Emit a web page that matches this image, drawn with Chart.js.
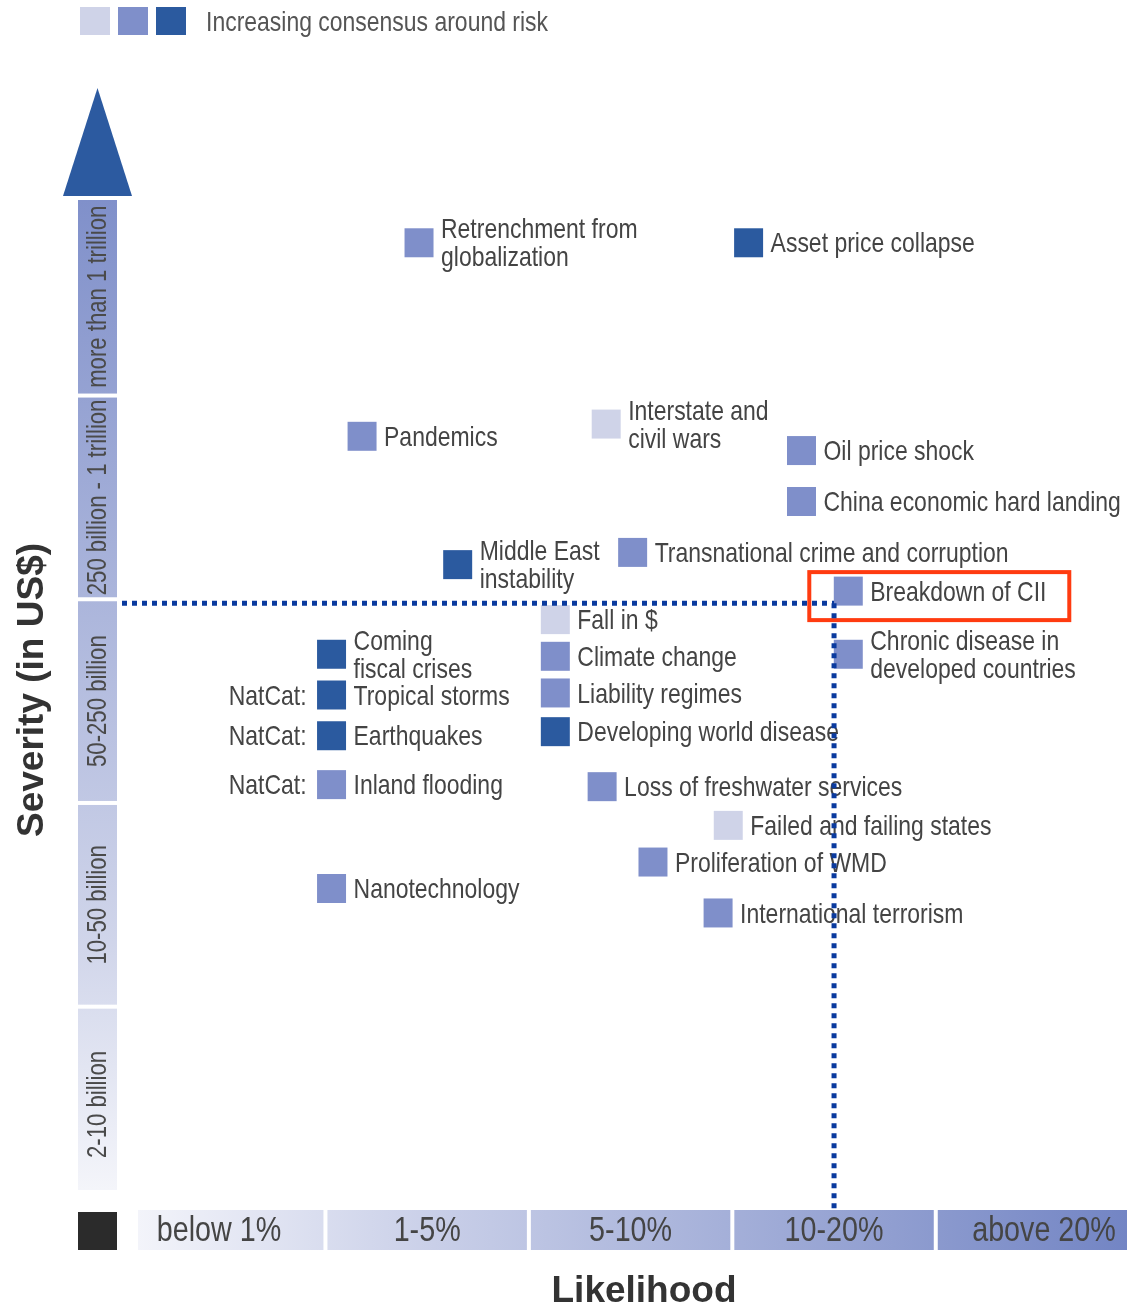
<!DOCTYPE html>
<html>
<head>
<meta charset="utf-8">
<script src="https://cdn.jsdelivr.net/npm/chart.js@4.4.1/dist/chart.umd.min.js"></script>
<style>
  html, body { margin: 0; padding: 0; background: #fff; }
  canvas { display: block; }
</style>
</head>
<body>
<canvas id="riskChart" width="1127" height="1313"></canvas>
<script>
// likelihood: 0 = below 1% ... 4 = above 20%, severity: 0 = 2-10bn ... 4 = more than 1tn
const risks = [
  'Retrenchment from\nglobalization', 'Asset price collapse', 'Pandemics', 'Interstate and\ncivil wars',
  'Oil price shock', 'China economic hard landing', 'Middle East\ninstability', 'Transnational crime and corruption',
  'Breakdown of CII', 'Chronic disease in\ndeveloped countries', 'Coming\nfiscal crises', 'Tropical storms',
  'Earthquakes', 'Inland flooding', 'Nanotechnology', 'Fall in $', 'Climate change', 'Liability regimes',
  'Developing world disease', 'Loss of freshwater services', 'Failed and failing states',
  'Proliferation of WMD', 'International terrorism'
];
const likelihood = [0.96, 2.58, 0.68, 1.88, 2.84, 2.84, 1.15, 2.01, 3.07, 3.07, 0.53, 0.53, 0.53, 0.53, 0.53,
  1.63, 1.63, 1.63, 1.63, 1.86, 2.48, 2.11, 2.43];
const severity = [4.25, 4.25, 3.30, 3.36, 3.23, 2.98, 2.67, 2.73, 2.54, 2.23, 2.23, 2.03, 1.83, 1.59, 1.08,
  2.40, 2.22, 2.04, 1.85, 1.58, 1.39, 1.21, 0.96];
const consensus = [1, 2, 1, 0, 1, 1, 2, 1, 1, 1, 2, 2, 2, 1, 1, 0, 1, 1, 2, 1, 0, 1, 1];
const prefixes = ['', '', '', '', '', '', '', '', '', '', '', 'NatCat:', 'NatCat:', 'NatCat:', '', '', '', '', '', '', '', '', ''];

const likelihoodBands = ['below 1%', '1-5%', '5-10%', '10-20%', 'above 20%'];
const severityBands = ['2-10 billion', '10-50 billion', '50-250 billion', '250 billion - 1 trillion', 'more than 1 trillion'];
const consensusColors = ['#cfd3e8', '#7f8fca', '#2b5a9f'];
const thresholdLikelihood = 3.0;
const thresholdSeverity = 2.48;
const highlighted = 'Breakdown of CII';

const FONT = '"Liberation Sans", Arial, sans-serif';

// condensed text, like the original's narrow typeface
function narrowText(ctx, text, x, y, opts) {
  const o = Object.assign({ size: 28, align: 'left', color: '#444', weight: 'normal', rotate: 0, squeeze: 0.82 }, opts);
  ctx.save();
  ctx.font = `${o.weight} ${o.size}px ${FONT}`;
  ctx.fillStyle = o.color;
  ctx.textAlign = o.align;
  ctx.textBaseline = 'middle';
  ctx.translate(x, y);
  if (o.rotate) ctx.rotate(o.rotate);
  ctx.scale(o.squeeze, 1);
  ctx.fillText(text, 0, 0);
  ctx.restore();
}

const frame = {
  id: 'frame',
  beforeDatasetsDraw(chart) {
    const { ctx, chartArea, scales: { x, y } } = chart;
    ctx.save();

    // legend
    consensusColors.forEach((c, i) => {
      ctx.fillStyle = c;
      ctx.fillRect(80 + i * 38, 7, 30, 28);
    });
    narrowText(ctx, 'Increasing consensus around risk', 206, 23, { size: 28, color: '#555' });

    // severity bands
    const bx = 78, bw = 39;
    const vg = ctx.createLinearGradient(0, chartArea.bottom, 0, chartArea.top);
    vg.addColorStop(0, '#f4f5fa');
    vg.addColorStop(0.25, '#d0d5ea');
    vg.addColorStop(1, '#8090ca');
    severityBands.forEach((label, j) => {
      const top = j === severityBands.length - 1 ? chartArea.top : y.getPixelForValue(j + 0.5) + 2;
      const bot = j === 0 ? chartArea.bottom : y.getPixelForValue(j - 0.5) - 2;
      ctx.fillStyle = vg;
      ctx.fillRect(bx, top, bw, bot - top);
      const cy = j === 0 ? y.getPixelForValue(j) - 4 : (top + bot) / 2;
      narrowText(ctx, label, bx + bw / 2 + 1, cy, { size: 27, align: 'center', color: '#4a4a4a', rotate: -Math.PI / 2 });
    });

    // arrow
    ctx.fillStyle = '#2c5aa0';
    ctx.beginPath();
    ctx.moveTo(97.5, 88);
    ctx.lineTo(132, 196);
    ctx.lineTo(63, 196);
    ctx.closePath();
    ctx.fill();

    // likelihood bands
    const by = 1210, bh = 40;
    const hg = ctx.createLinearGradient(138, 0, chart.width, 0);
    hg.addColorStop(0, '#f3f4fa');
    hg.addColorStop(0.3, '#c9cfe8');
    hg.addColorStop(1, '#7385c4');
    likelihoodBands.forEach((label, i) => {
      const left = i === 0 ? 138 : x.getPixelForValue(i - 0.5) + 2;
      const right = i === likelihoodBands.length - 1 ? chart.width : x.getPixelForValue(i + 0.5) - 2;
      ctx.fillStyle = hg;
      ctx.fillRect(left, by, right - left, bh);
      const cx = i === 0 ? 219 : i === likelihoodBands.length - 1 ? 1044 : x.getPixelForValue(i);
      narrowText(ctx, label, cx, by + bh / 2 + 1, { size: 35, align: 'center', color: '#454545' });
    });
    ctx.fillStyle = '#2b2b2b';
    ctx.fillRect(78, 1212, 39, 38);

    // axis titles
    narrowText(ctx, 'Likelihood', 644, 1292, { size: 37, align: 'center', color: '#333', weight: 'bold', squeeze: 1 });
    narrowText(ctx, 'Severity (in US$)', 33, 690, { size: 37, align: 'center', color: '#333', weight: 'bold', squeeze: 1, rotate: -Math.PI / 2 });

    ctx.restore();
  },
  afterDatasetsDraw(chart) {
    const { ctx, chartArea, scales: { x, y } } = chart;
    ctx.save();

    // point labels
    chart.data.datasets.forEach((ds, di) => {
      chart.getDatasetMeta(di).data.forEach((pt, k) => {
        const d = ds.data[k];
        const lines = d.name.split('\n');
        lines.forEach((line, li) => {
          const ly = pt.y + 2 + (li - (lines.length - 1) / 2) * 28;
          narrowText(ctx, line, pt.x + 22, ly, { size: 28, color: '#444' });
        });
        if (d.prefix) narrowText(ctx, d.prefix, pt.x - 25, pt.y + 2, { size: 28, align: 'right', color: '#444' });
        if (d.name === highlighted) {
          ctx.strokeStyle = '#ff3b10';
          ctx.lineWidth = 4;
          ctx.strokeRect(pt.x - 39, pt.y - 19, 260, 48);
        }
      });
    });

    // threshold lines
    const tx = x.getPixelForValue(thresholdLikelihood);
    const ty = y.getPixelForValue(thresholdSeverity);
    ctx.strokeStyle = '#0a3a9e';
    ctx.lineWidth = 5;
    ctx.setLineDash([5, 5]);
    ctx.beginPath();
    ctx.moveTo(chartArea.left, ty);
    ctx.lineTo(tx, ty);
    ctx.moveTo(tx, ty);
    ctx.lineTo(tx, 1210);
    ctx.stroke();

    ctx.restore();
  }
};

const datasets = consensusColors.map((color, level) => ({
  label: ['low', 'medium', 'high'][level],
  data: risks
    .map((name, i) => ({ x: likelihood[i], y: severity[i], name, prefix: prefixes[i] }))
    .filter((d, i) => consensus[i] === level),
  pointStyle: 'rect',
  pointRadius: 20.5,
  pointHoverRadius: 20.5,
  backgroundColor: color,
  borderWidth: 0
}));

new Chart(document.getElementById('riskChart'), {
  type: 'scatter',
  data: { datasets },
  options: {
    responsive: false,
    animation: false,
    layout: { autoPadding: false, padding: { left: 122, right: 0, top: 200, bottom: 123 } },
    scales: {
      x: { type: 'linear', min: -0.5, max: 4.44, display: false },
      y: { type: 'linear', min: -0.4, max: 4.46, display: false }
    },
    plugins: {
      legend: { display: false },
      tooltip: { enabled: false }
    }
  },
  plugins: [frame]
});
</script>
</body>
</html>
